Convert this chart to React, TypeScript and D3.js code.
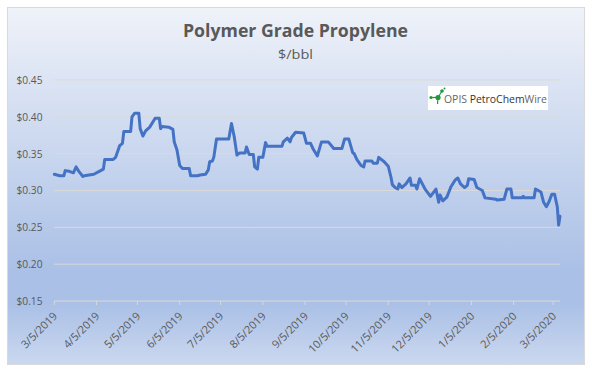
import React from "react";
import * as d3 from "d3";

const title = "Polymer Grade Propylene";
const subtitle = "$/bbl";

const dates: string[] = [
  "2019-03-05","2019-03-09","2019-03-12","2019-03-13","2019-03-16","2019-03-19","2019-03-21","2019-03-23","2019-03-26","2019-03-27",
  "2019-04-03","2019-04-08","2019-04-10","2019-04-11","2019-04-17","2019-04-19","2019-04-22","2019-04-24","2019-04-25","2019-04-30",
  "2019-05-01","2019-05-03","2019-05-06","2019-05-07","2019-05-09","2019-05-11","2019-05-14","2019-05-18","2019-05-21","2019-05-22",
  "2019-05-23","2019-05-28","2019-05-31","2019-06-01","2019-06-03","2019-06-05","2019-06-07","2019-06-12","2019-06-13","2019-06-18",
  "2019-06-20","2019-06-24","2019-06-26","2019-06-27","2019-06-29","2019-06-30","2019-07-02","2019-07-11","2019-07-13","2019-07-15",
  "2019-07-17","2019-07-19","2019-07-23","2019-07-24","2019-07-26","2019-07-29","2019-07-30","2019-08-01","2019-08-02","2019-08-05",
  "2019-08-07","2019-08-08","2019-08-19","2019-08-20","2019-08-23","2019-08-25","2019-08-26","2019-08-29","2019-09-04","2019-09-06",
  "2019-09-09","2019-09-11","2019-09-14","2019-09-17","2019-09-22","2019-09-26","2019-10-02","2019-10-04","2019-10-07","2019-10-10",
  "2019-10-11","2019-10-13","2019-10-16","2019-10-18","2019-10-19","2019-10-24","2019-10-25","2019-10-28","2019-10-29","2019-11-02",
  "2019-11-05","2019-11-07","2019-11-08","2019-11-10","2019-11-12","2019-11-13","2019-11-15","2019-11-18","2019-11-21","2019-11-22",
  "2019-11-25","2019-11-26","2019-11-28","2019-11-30","2019-12-02","2019-12-06","2019-12-10","2019-12-12","2019-12-13","2019-12-15",
  "2019-12-18","2019-12-21","2019-12-24","2019-12-26","2019-12-28","2019-12-31","2020-01-02","2020-01-03","2020-01-07","2020-01-09",
  "2020-01-13","2020-01-15","2020-01-23","2020-01-24","2020-01-29","2020-01-31","2020-02-03","2020-02-04","2020-02-11","2020-02-12",
  "2020-02-13","2020-02-20","2020-02-21","2020-02-25","2020-02-27","2020-02-29","2020-03-02","2020-03-04","2020-03-06","2020-03-08",
  "2020-03-09","2020-03-10"
];

const prices: number[] = [
  0.322,0.320,0.320,0.327,0.326,0.324,0.332,0.326,0.319,0.320,
  0.322,0.327,0.329,0.342,0.342,0.345,0.361,0.364,0.380,0.380,
  0.400,0.405,0.405,0.384,0.374,0.381,0.386,0.398,0.398,0.384,
  0.387,0.386,0.383,0.366,0.355,0.334,0.330,0.330,0.320,0.320,
  0.321,0.322,0.328,0.339,0.340,0.345,0.370,0.370,0.391,0.373,
  0.348,0.351,0.351,0.359,0.349,0.349,0.332,0.329,0.345,0.345,
  0.365,0.360,0.360,0.366,0.371,0.366,0.372,0.379,0.378,0.364,
  0.364,0.356,0.347,0.366,0.366,0.357,0.357,0.370,0.370,0.351,
  0.350,0.342,0.334,0.332,0.340,0.340,0.337,0.337,0.345,0.339,
  0.333,0.318,0.308,0.304,0.302,0.309,0.304,0.309,0.317,0.307,
  0.307,0.302,0.316,0.309,0.302,0.292,0.302,0.284,0.294,0.286,
  0.291,0.305,0.314,0.317,0.309,0.304,0.307,0.316,0.315,0.304,
  0.300,0.290,0.288,0.287,0.288,0.302,0.302,0.290,0.290,0.292,
  0.290,0.290,0.302,0.298,0.284,0.278,0.285,0.295,0.295,0.278,
  0.253,0.265
];

const xTickLabels: string[] = [
  "3/5/2019","4/5/2019","5/5/2019","6/5/2019","7/5/2019","8/5/2019","9/5/2019",
  "10/5/2019","11/5/2019","12/5/2019","1/5/2020","2/5/2020","3/5/2020"
];
const yTicks: number[] = [0.15, 0.2, 0.25, 0.3, 0.35, 0.4, 0.45];
const xDomain: string[] = ["2019-03-05", "2020-03-10"];

const parseIso = d3.utcParse("%Y-%m-%d");
const parseMdy = d3.utcParse("%m/%d/%Y");

export default function App() {
  const W = 592, H = 381;
  const left = 54.3, right = 560, top = 80, bottom = 301;

  const x = d3.scaleUtc()
    .domain(xDomain.map((s) => parseIso(s) as Date))
    .range([left, right]);
  const y = d3.scaleLinear().domain([0.15, 0.45]).range([bottom, top]);

  const data = dates.map((d, i) => ({ date: parseIso(d) as Date, v: prices[i] }));
  const line = d3.line<{ date: Date; v: number }>()
    .x((d) => x(d.date))
    .y((d) => y(d.v));

  const fmtY = (v: number) => "$" + v.toFixed(2);
  const font = "'Open Sans', 'Noto Sans', sans-serif";

  return (
    <svg width={W} height={H} style={{ position: "absolute", left: 0, top: 0 }}>
      <defs>
        <linearGradient id="bg" x1="0" y1="0" x2="0" y2="1">
          <stop offset="0%" stopColor="#eff2f9" />
          <stop offset="74%" stopColor="#aac0e6" />
          <stop offset="83%" stopColor="#aac0e6" />
          <stop offset="100%" stopColor="#cbd8ef" />
        </linearGradient>
      </defs>
      <rect x={0} y={0} width={W} height={H} fill="#ffffff" />
      <rect x={7.5} y={7.5} width={577} height={357} fill="url(#bg)" stroke="#d9d9d9" strokeWidth={1} />

      <text x={295.5} y={37.3} textAnchor="middle" fontFamily={font} fontWeight={700}
        fontSize={18} fill="#595959" textLength={225} lengthAdjust="spacingAndGlyphs">{title}</text>
      <text x={295.5} y={59} textAnchor="middle" fontFamily={font}
        fontSize={13.5} fill="#595959" textLength={35} lengthAdjust="spacingAndGlyphs">{subtitle}</text>

      {yTicks.map((t) => (
        <g key={t}>
          {t > 0.15 && (
            <line x1={left} x2={right} y1={y(t)} y2={y(t)} stroke="#d9d9d9" strokeWidth={1} />
          )}
          <text x={42.5} y={y(t)} dy="0.35em" textAnchor="end" fontFamily={font}
            fontSize={11} fill="#595959" textLength={26} lengthAdjust="spacingAndGlyphs">{fmtY(t)}</text>
        </g>
      ))}

      <line x1={left} x2={right} y1={bottom} y2={bottom} stroke="#d9d9d9" strokeWidth={1} />
      {xTickLabels.map((lab) => {
        const tx = x(parseMdy(lab) as Date);
        return (
          <g key={lab}>
            <line x1={tx} x2={tx} y1={bottom} y2={bottom + 4} stroke="#d9d9d9" strokeWidth={1} />
            <text transform={`translate(${tx + 1},${bottom + 13}) rotate(-45)`} textAnchor="end"
              dy="0.35em" fontFamily={font} fontSize={11} fill="#595959">{lab}</text>
          </g>
        );
      })}

      <path d={line(data) || ""} fill="none" stroke="#4472c4" strokeWidth={3}
        strokeLinejoin="round" strokeLinecap="round" />

      <g>
        <rect x={428} y={86} width={120} height={24} fill="#ffffff" />
        <line x1={431} y1={97.5} x2={438} y2={97.5} stroke="#1f9a3a" strokeWidth={1.2} />
        <line x1={438} y1={97.5} x2={442} y2={91} stroke="#1f9a3a" strokeWidth={1.2} />
        <line x1={438} y1={97.5} x2={437.5} y2={104} stroke="#1f9a3a" strokeWidth={1.2} />
        <circle cx={431} cy={97.5} r={1.6} fill="#1f9a3a" />
        <circle cx={438} cy={97.5} r={2.6} fill="#1f9a3a" />
        <circle cx={442} cy={91} r={1.8} fill="#1f9a3a" />
        <circle cx={444.5} cy={88.5} r={1} fill="#1f9a3a" />
        <text x={444} y={102.5} fontFamily={font} fontSize={10} fill="#666666" textLength={103} lengthAdjust="spacingAndGlyphs">
          <tspan>OPIS </tspan>
          <tspan fill="#333333" fontWeight={500}>PetroChem</tspan>
          <tspan fill="#666666">Wire</tspan>
        </text>
      </g>
    </svg>
  );
}
